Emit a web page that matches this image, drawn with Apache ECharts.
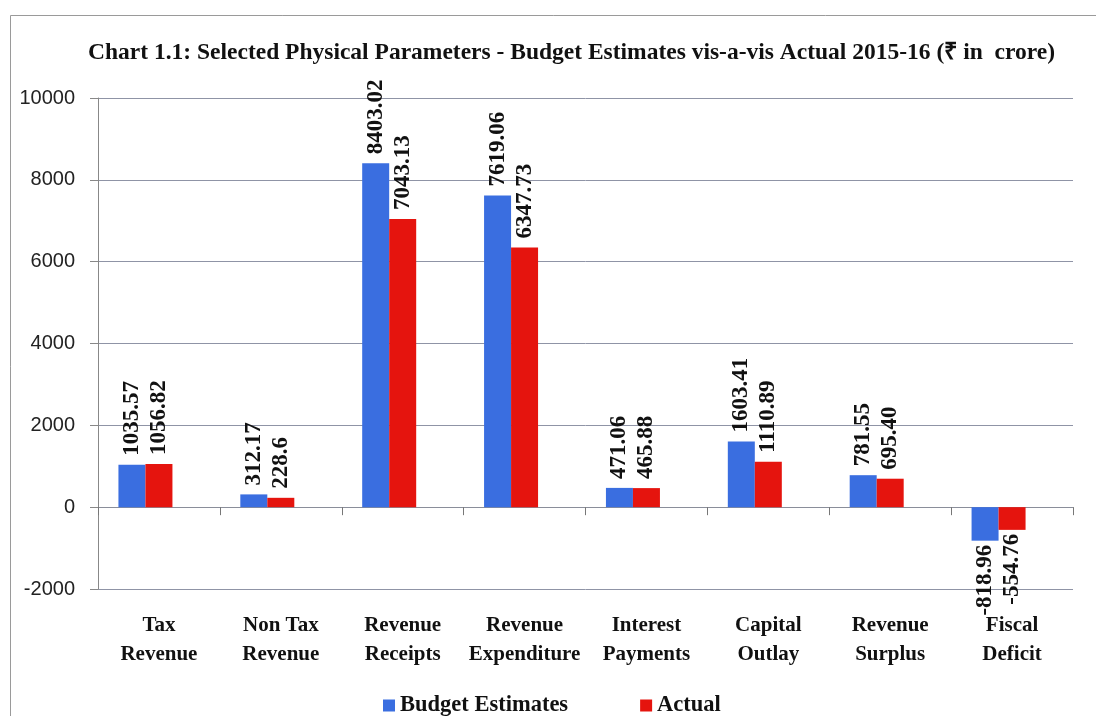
<!DOCTYPE html>
<html><head><meta charset="utf-8">
<script src="https://cdn.jsdelivr.net/npm/echarts@6/dist/echarts.min.js"></script>
<style>html,body{margin:0;padding:0;background:#fff}#c{width:1096px;height:716px}</style>
</head><body><div id="c"></div>
<script>
const categories = ['Tax\nRevenue','Non Tax\nRevenue','Revenue\nReceipts','Revenue\nExpenditure','Interest\nPayments','Capital\nOutlay','Revenue\nSurplus','Fiscal\nDeficit'];
const budgetEstimates = [1035.57, 312.17, 8403.02, 7619.06, 471.06, 1603.41, 781.55, -818.96];
const budgetLabels = ['1035.57','312.17','8403.02','7619.06','471.06','1603.41','781.55','-818.96'];
const actual = [1056.82, 228.6, 7043.13, 6347.73, 465.88, 1110.89, 695.40, -554.76];
const actualLabels = ['1056.82','228.6','7043.13','6347.73','465.88','1110.89','695.40','-554.76'];
const yMin = -2000, yMax = 10000, yStep = 2000;
const spacer = [null, null, null, null, null, null, null, null];

const SERIF = '"Liberation Serif","Times New Roman",serif';
const labelFont = {fontFamily: SERIF, fontWeight: 'bold', fontSize: 23, color: '#111'};

function build(values) {
  return values.map(v => {
    const item = {value: v};
    if (v < 0) item.label = {position: 'bottom', align: 'right', distance: 4};
    return item;
  });
}
function barSeries(name, values, labels, color) {
  return {
    name, type: 'bar', xAxisIndex: 0, barWidth: 27, barGap: 0,
    itemStyle: {color},
    data: build(values),
    label: Object.assign({
      show: true, position: 'top', rotate: 90, align: 'left', verticalAlign: 'middle', distance: 9,
      formatter: p => labels[p.dataIndex]
    }, labelFont)
  };
}

const chart = echarts.init(document.getElementById('c'), null, {renderer: 'canvas'});
chart.setOption({
  animation: false,
  backgroundColor: '#fff',
  title: {
    text: 'Chart 1.1: Selected Physical Parameters - Budget Estimates vis-a-vis Actual 2015-16 (₹ in  crore)',
    left: 88, top: 41, padding: 0,
    textStyle: {fontFamily: SERIF, fontWeight: 'bold', fontSize: 23.5, color: '#111'}
  },
  graphic: [{type: 'rect', shape: {x: 10.5, y: 15.5, width: 1100, height: 720}, style: {fill: 'none', stroke: '#9a9a9a', lineWidth: 1}, silent: true}],
  legend: {
    data: ['Budget Estimates', 'Actual'], top: 689, left: 378,
    icon: 'rect', itemWidth: 12, itemHeight: 12, itemGap: 72,
    textStyle: {fontFamily: SERIF, fontWeight: 'bold', fontSize: 22.5, color: '#111'}
  },
  grid: {left: 98, right: 23, top: 98, bottom: 127, containLabel: false},
  xAxis: [{
    type: 'category', data: categories,
    axisLine: {onZero: true, lineStyle: {color: '#8a8e9a', width: 1}},
    axisTick: {show: true, length: 8, lineStyle: {color: '#777'}},
    axisLabel: {show: false}, splitLine: {show: false}
  }, {
    type: 'category', data: categories, position: 'bottom',
    axisLine: {show: false, onZero: false}, axisTick: {show: false},
    axisLabel: {interval: 0, margin: 22, lineHeight: 29, fontFamily: SERIF, fontWeight: 'bold', fontSize: 21, color: '#111'}
  }],
  yAxis: {
    type: 'value', min: yMin, max: yMax, interval: yStep,
    axisLine: {show: true, lineStyle: {color: '#888'}},
    axisTick: {show: true, length: 8, lineStyle: {color: '#888'}},
    splitLine: {lineStyle: {color: '#8f94a6', width: 1}},
    axisLabel: {margin: 23, formatter: v => String(v), fontFamily: '"Liberation Sans",Arial,sans-serif', fontSize: 20, color: '#222'}
  },
  series: [
    barSeries('Budget Estimates', budgetEstimates, budgetLabels, '#3a6ee0'),
    barSeries('Actual', actual, actualLabels, '#e5140e'),
    {name: 'spacer', type: 'bar', barWidth: 27, barGap: 0, data: spacer, silent: true}
  ]
});
</script></body></html>
